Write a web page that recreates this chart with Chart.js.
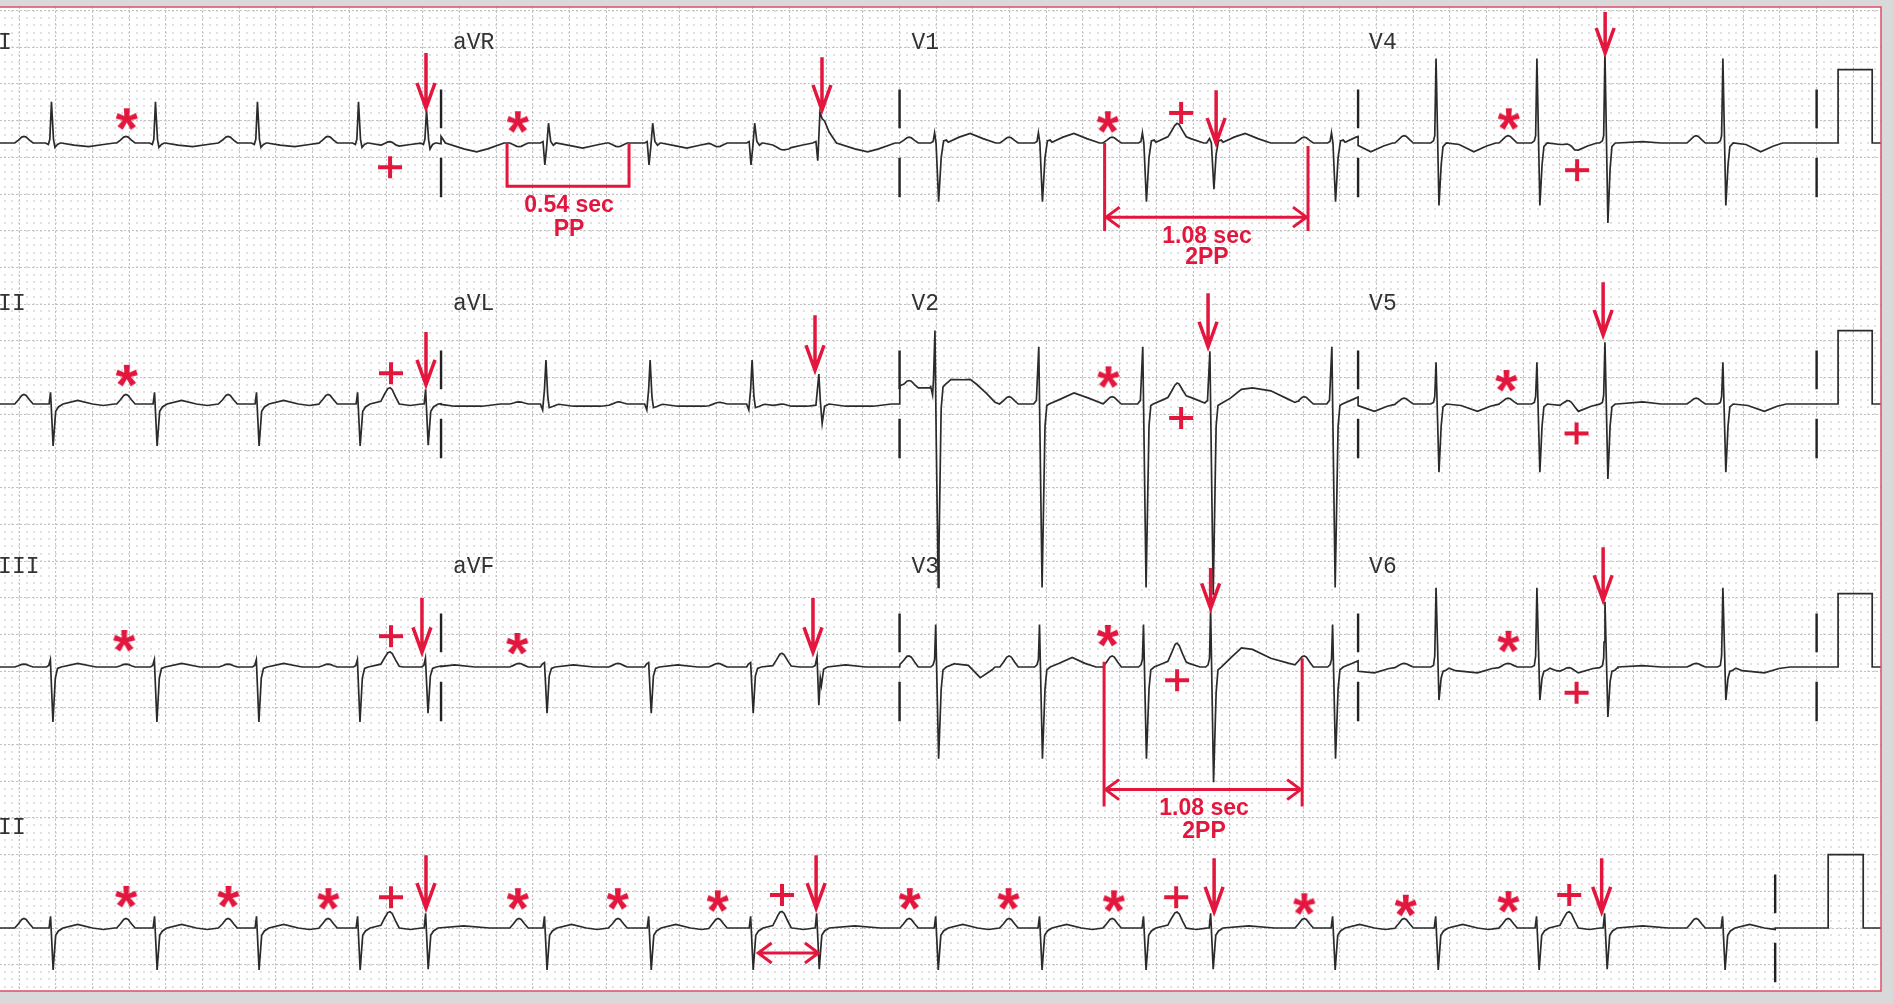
<!DOCTYPE html>
<html>
<head>
<meta charset="utf-8">
<title>ECG</title>
<script src="https://cdn.jsdelivr.net/npm/chart.js@4.4.1/dist/chart.umd.min.js"></script>
<style>
  html, body { margin: 0; padding: 0; background: #d9d9d9; }
  canvas { display: block; }
</style>
</head>
<body>
<canvas id="ecg" width="1893" height="1004"></canvas>
<script>
/* ECG 12 derivaciones + tira de ritmo II */

const qrsTimes = [0.379, 0.946, 1.502, 2.053, 2.424, 3.072, 3.640, 4.196, 4.556,
                  5.205, 5.771, 6.338, 6.704, 7.369, 7.931, 8.481, 8.852, 9.495];
const earlyBeats = [4, 8, 12, 16];      // latidos con flecha
// picos de las ondas P (s)
const pTimes = [0.226, 0.782, 1.339, 1.884, 2.222, 2.925, 3.465, 4.010, 4.359,
                5.052, 5.597, 6.159, 6.513, 7.206, 7.751, 8.318, 8.651, 9.343];
const plusWaves = [4, 8, 12, 16];       // P marcadas con "+"

const rowLeads = [['I', 'aVR', 'V1', 'V4'], ['II', 'aVL', 'V2', 'V5'], ['III', 'aVF', 'V3', 'V6']];
const rhythmLead = 'II';
const rowBase = [10.695, 7.139, 3.556, 0];   // mV, linea de base de cada fila
const leadSpan = 2.5;
const rhythmEnd = 9.774;
const sepTimes = [2.5, 5, 7.5, 10];
const labelTimes = [0.085, 2.565, 5.065, 7.56];
const calStart = [10.117, 10.117, 10.117, 10.063];
const calEnd = [10.303, 10.303, 10.303, 10.254];
const calHeight = 1;

const xRange = [0.0954, 10.335];
const yRange = [-0.858, 12.548];

// plantilla de onda P (normalizada)
const pWave = [[-0.05, 0], [-0.03, 0.45], [-0.012, 0.9], [0, 1], [0.012, 0.9], [0.03, 0.45], [0.05, 0]];
const pAmp = { I: 0.09, aVR: -0.05, V1: 0.08, V4: 0.1, II: 0.13, aVL: 0.03, V2: 0.1, V5: 0.08, III: 0.04, aVF: 0.05, V3: 0.15, V6: 0.05 };
const pPlusAmp = { I: 0.06, aVR: -0.04, V1: 0.14, V4: 0.06, II: 0.19, aVL: 0.03, V2: 0.14, V5: 0.1, III: 0.17, aVF: 0.16, V3: 0.2, V6: 0.06 };

// QRS [dt s, mV]
const qrsNormal = {
  I:   [[-0.035,0],[-0.02,-0.02],[-0.012,0.05],[-0.003,0.56],[0.008,0.05],[0.016,-0.06],[0.03,-0.02],[0.045,0]],
  aVR: [[-0.03,0],[-0.016,0.02],[-0.006,-0.3],[0.004,-0.05],[0.014,0.27],[0.026,0.02],[0.04,-0.03],[0.055,0]],
  V1:  [[-0.035,0],[-0.022,0.02],[-0.014,0.14],[-0.006,0],[0.008,-0.8],[0.022,-0.2],[0.035,0.03],[0.05,0.04],[0.06,0]],
  V4:  [[-0.035,0],[-0.02,0.03],[-0.013,0.1],[-0.006,1.15],[0.01,-0.85],[0.022,-0.3],[0.032,-0.05],[0.05,0]],
  II:  [[-0.03,0],[-0.016,0],[-0.008,0.16],[0.006,-0.57],[0.02,-0.1],[0.035,-0.04],[0.06,0]],
  aVL: [[-0.03,0],[-0.018,-0.08],[-0.008,0.2],[0,0.6],[0.01,0.1],[0.018,-0.05],[0.04,-0.03],[0.07,0]],
  V2:  [[-0.04,0],[-0.025,0.05],[-0.012,0.78],[0.006,-2.5],[0.022,-0.3],[0.032,-0.02],[0.045,0]],
  V5:  [[-0.035,0],[-0.02,0.02],[-0.013,0.1],[-0.006,0.57],[0.01,-0.93],[0.022,-0.3],[0.032,-0.04],[0.05,0]],
  III: [[-0.03,0],[-0.018,0.02],[-0.009,0.1],[0.005,-0.75],[0.018,-0.15],[0.03,-0.02],[0.05,0]],
  aVF: [[-0.03,0],[-0.02,0.04],[-0.008,0.06],[0.006,-0.63],[0.018,-0.12],[0.03,-0.02],[0.05,0]],
  V3:  [[-0.035,0],[-0.022,0.03],[-0.014,0.1],[-0.008,0.58],[0.008,-1.25],[0.022,-0.3],[0.032,-0.04],[0.05,0]],
  V6:  [[-0.035,0],[-0.02,0.02],[-0.013,0.15],[-0.006,1.08],[0.01,-0.45],[0.022,-0.15],[0.032,-0.06],[0.05,-0.04],[0.065,0]]
};
const qrsEarly = {
  I:   [[-0.035,0],[-0.02,-0.02],[-0.012,0.05],[-0.003,0.45],[0.008,0.05],[0.016,-0.08],[0.03,-0.02],[0.045,0]],
  aVR: [[-0.03,0],[-0.012,0.02],[-0.002,-0.24],[0.01,0.42],[0.022,0.33],[0.035,0.3],[0.06,0.15],[0.1,0]],
  V1:  [[-0.03,0],[-0.014,0.06],[-0.004,0],[0.01,-0.63],[0.022,-0.15],[0.035,0.03],[0.05,0.04],[0.06,0]],
  V4:  [[-0.035,0],[-0.02,0.03],[-0.013,0.1],[-0.006,1.23],[0.01,-1.09],[0.022,-0.35],[0.032,-0.05],[0.05,0]],
  II:  [[-0.03,0],[-0.016,0],[-0.008,0.2],[0.006,-0.56],[0.02,-0.1],[0.035,-0.04],[0.06,0]],
  aVL: [[-0.03,0],[-0.012,0],[0.004,0.42],[0.012,0.05],[0.022,-0.26],[0.035,-0.03],[0.06,0]],
  V2:  [[-0.04,0],[-0.025,0.05],[-0.012,0.72],[0.006,-2.6],[0.022,-0.3],[0.032,-0.02],[0.045,0]],
  V5:  [[-0.035,0],[-0.02,0.02],[-0.013,0.12],[-0.006,0.84],[0.01,-1.02],[0.022,-0.3],[0.032,-0.04],[0.05,0]],
  III: [[-0.03,0],[-0.018,0.02],[-0.009,0.12],[0.005,-0.63],[0.018,-0.12],[0.03,-0.02],[0.05,0]],
  aVF: [[-0.03,0],[-0.016,0.02],[-0.006,0.14],[0.004,-0.52],[0.012,-0.15],[0.018,-0.25],[0.03,-0.03],[0.05,0]],
  V3:  [[-0.035,0],[-0.022,0.03],[-0.014,0.12],[-0.008,0.8],[0.008,-1.57],[0.022,-0.35],[0.032,-0.04],[0.05,0]],
  V6:  [[-0.035,0],[-0.02,0.02],[-0.013,0.12],[-0.006,0.89],[0.01,-0.68],[0.022,-0.2],[0.032,-0.06],[0.05,-0.04],[0.065,0]]
};
// ST-T
const tWave = {
  I:   [[0.05,0],[0.12,-0.03],[0.2,-0.05],[0.28,-0.02],[0.34,0]],
  aVR: [[0.06,0],[0.14,-0.04],[0.2,-0.07],[0.27,-0.03],[0.33,0]],
  V1:  [[0.05,0],[0.12,0.08],[0.18,0.13],[0.25,0.06],[0.32,0]],
  V4:  [[0.05,0],[0.12,-0.02],[0.2,-0.12],[0.27,-0.04],[0.32,0]],
  II:  [[0.06,0],[0.14,0.05],[0.22,0],[0.28,-0.02],[0.34,0]],
  aVL: [[0.06,0],[0.15,-0.03],[0.3,-0.03],[0.4,0]],
  V2:  [[0.045,0],[0.1,0.06],[0.18,0.15],[0.26,0.08],[0.34,0]],
  V5:  [[0.05,0],[0.13,-0.02],[0.22,-0.1],[0.29,-0.03],[0.34,0]],
  III: [[0.05,0],[0.14,0.05],[0.24,0]],
  aVF: [[0.05,0],[0.15,0.03],[0.26,0]],
  V3:  [[0.05,0],[0.1,0.05],[0.17,0.13],[0.24,0.05],[0.3,0]],
  V6:  [[0.05,0],[0.1,-0.05],[0.22,-0.08],[0.3,-0.02],[0.36,0]]
};
const tEarly = {
  aVR: [[0.1,0],[0.2,-0.08],[0.27,-0.12],[0.33,-0.08],[0.42,0]],
  V4:  [[0.06,0],[0.2,0.02],[0.3,0]],
  II:  [[0.06,0],[0.2,0.03],[0.34,0]],
  V2:  [[0.045,0],[0.1,0.08],[0.16,0.2],[0.22,0.22],[0.32,0.18],[0.42,0.06],[0.47,0]],
  V5:  [[0.06,0],[0.2,0.03],[0.3,0]],
  V3:  [[0.05,0],[0.1,0.12],[0.16,0.26],[0.22,0.24],[0.32,0.12],[0.42,0.05],[0.5,0]],
  V6:  [[0.06,0],[0.2,0.02],[0.3,0]]
};
// ondas sueltas [t s, mV]
const extraWaves = {
  V2: [[[4.85,0],[4.9,0.22],[5.17,0.22],[5.185,0]],
       [[5.185,0],[5.193,0.22],[5.2,0]],
       [[5.215,0],[5.225,0.24],[5.28,0.3],[5.35,0.22],[5.42,0.15],[5.47,0.08],[5.52,0]]],
  V3: [[[5.3,0],[5.44,-0.2],[5.52,0]]]
};

// marcas rojas [fila, t, mV]
const asteriskMarks = [[0,0.788,0.31],[0,2.920,0.27],[0,6.137,0.27],[0,8.323,0.31],
  [1,0.788,0.37],[1,6.140,0.35],[1,8.310,0.30],
  [2,0.774,0.34],[2,2.917,0.30],[2,6.137,0.41],[2,8.321,0.33],
  [3,0.785,0.41],[3,1.342,0.41],[3,1.887,0.38],[3,2.920,0.38],[3,3.465,0.38],[3,4.010,0.35],
  [3,5.057,0.38],[3,5.595,0.38],[3,6.170,0.35],[3,7.208,0.31],[3,7.761,0.29],[3,8.321,0.34]];
const plusMarks = [[0,2.222,-0.33],[0,6.535,0.41],[0,8.694,-0.37],
  [1,2.227,0.42],[1,6.535,-0.19],[1,8.691,-0.40],
  [2,2.227,0.42],[2,6.513,-0.18],[2,8.691,-0.35],
  [3,2.227,0.42],[3,4.359,0.45],[3,6.508,0.42],[3,8.651,0.45]];
// flechas [fila, t, punta mV, cola mV]
const arrowMarks = [[0,2.418,0.477,1.226],[0,4.577,0.45,1.17],[0,6.726,0.0,0.72],[0,8.847,1.226,1.785],
  [1,2.418,0.26,0.98],[1,4.539,0.46,1.21],[1,6.682,0.78,1.51],[1,8.836,0.94,1.66],
  [2,2.396,0.2,0.94],[2,4.528,0.2,0.94],[2,6.696,0.80,1.35],[2,8.836,0.91,1.63],
  [3,2.418,0.27,0.99],[3,4.545,0.27,0.99],[3,6.715,0.22,0.95],[3,8.828,0.22,0.95]];
// corchete PP [fila, t1, t2, mV arriba, mV abajo]
const ppBrackets = [[0, 2.86, 3.525, 0.0, -0.59]];
// calibres 2PP [fila, t1, t2, arriba izq, arriba der, abajo, flecha]
const twoPPCalipers = [[0, 6.118, 7.227, 0.0, -0.04, -1.2, -1.01], [2, 6.115, 7.195, 0.07, 0.12, -1.9, -1.67]];
const doubleArrows = [[3, 4.221, 4.566, -0.34]];
const intervalTexts = [[0, 3.198, -0.86, '0.54 sec'], [0, 3.198, -1.18, 'PP'],
  [0, 6.676, -1.28, '1.08 sec'], [0, 6.676, -1.56, '2PP'],
  [2, 6.66, -1.93, '1.08 sec'], [2, 6.66, -2.24, '2PP']];

const RED = '#e3173e';
const INK = '#2b2b2b';

function waveAt(shape, t) {
  const n = shape.length;
  if (t <= shape[0][0] || t >= shape[n - 1][0]) return 0;
  for (let i = 1; i < n; i++) {
    if (t <= shape[i][0]) {
      const [t0, v0] = shape[i - 1], [t1, v1] = shape[i];
      return v0 + (v1 - v0) * (t - t0) / (t1 - t0);
    }
  }
  return 0;
}
const place = (shape, t0, k) => shape.map(([dt, v]) => [t0 + dt, v * k]);

function leadComponents(lead) {
  const comps = [];
  pTimes.forEach((t, i) => {
    comps.push(place(pWave, t, plusWaves.includes(i) ? pPlusAmp[lead] : pAmp[lead]));
  });
  qrsTimes.forEach((t, i) => {
    const early = earlyBeats.includes(i);
    comps.push(place(early ? qrsEarly[lead] : qrsNormal[lead], t, 1));
    comps.push(place(early ? (tEarly[lead] || tWave[lead]) : tWave[lead], t, 1));
  });
  (extraWaves[lead] || []).forEach(s => comps.push(s));
  return comps;
}

function leadTrace(lead, a, b, base) {
  const comps = leadComponents(lead);
  const times = new Set([a, b]);
  comps.forEach(c => c.forEach(([t]) => { if (t > a && t < b) times.add(t); }));
  return [...times].sort((p, q) => p - q)
    .map(t => ({ x: t, y: base + comps.reduce((s, c) => s + waveAt(c, t), 0) }));
}

function calPulse(r, from) {
  const b = rowBase[r];
  return [{ x: from, y: b }, { x: calStart[r], y: b }, { x: calStart[r], y: b + calHeight },
          { x: calEnd[r], y: b + calHeight }, { x: calEnd[r], y: b }, { x: xRange[1] + 0.2, y: b }];
}

// filas de trazado
const traceSets = [];
rowLeads.forEach((leads, r) => {
  let pts = [];
  leads.forEach((lead, c) => {
    pts = pts.concat(leadTrace(lead, c * leadSpan, (c + 1) * leadSpan, rowBase[r]));
  });
  pts = pts.concat(calPulse(r, 4 * leadSpan));
  traceSets.push(pts);
});
traceSets.push(leadTrace(rhythmLead, 0, rhythmEnd, rowBase[3]).concat(calPulse(3, rhythmEnd)));

// separadores de derivacion
const sepPts = [];
[0, 1, 2, 3].forEach(r => {
  const ts = r < 3 ? sepTimes : [rhythmEnd];
  ts.forEach(t => {
    const b = rowBase[r];
    sepPts.push({ x: t, y: b + 0.2 }, { x: t, y: b + 0.73 }, { x: t, y: null },
                { x: t, y: b - 0.2 }, { x: t, y: b - 0.74 }, { x: t, y: null });
  });
});

function markImage(kind) {
  const c = document.createElement('canvas');
  c.width = 30; c.height = 30;
  const g = c.getContext('2d');
  g.fillStyle = RED; g.strokeStyle = RED;
  if (kind === '*') {
    g.font = 'bold 60px "Liberation Sans", Arial, sans-serif';
    const m = g.measureText('*');
    const w = m.actualBoundingBoxLeft + m.actualBoundingBoxRight;
    const s = 23 / w;
    g.translate(15, 15);
    g.scale(s, s);
    g.fillText('*', (m.actualBoundingBoxLeft - m.actualBoundingBoxRight) / 2,
                    (m.actualBoundingBoxAscent - m.actualBoundingBoxDescent) / 2);
  } else {
    g.lineWidth = 4;
    g.beginPath();
    g.moveTo(3, 15); g.lineTo(27, 15);
    g.moveTo(15, 4); g.lineTo(15, 26);
    g.stroke();
  }
  return c;
}

const toPts = list => list.map(([r, t, v]) => ({ x: t, y: rowBase[r] + v }));

const ecgMarks = {
  id: 'ecgMarks',
  beforeDraw(chart) {
    const { ctx, chartArea: a } = chart;
    ctx.save();
    ctx.fillStyle = '#d9d9d9';
    ctx.fillRect(0, 0, chart.width, chart.height);
    ctx.fillStyle = '#ffffff';
    ctx.fillRect(a.left, a.top, a.right - a.left, a.bottom - a.top);
    ctx.restore();
  },
  beforeDatasetsDraw(chart) {
    // puntos de la cuadricula menor
    const { ctx, scales: { x, y } } = chart;
    ctx.save();
    ctx.fillStyle = '#c3c3c3';
    const xs = [], ys = [];
    for (let k = Math.ceil(x.min / 0.04); k * 0.04 <= x.max; k++) xs.push(x.getPixelForValue(k * 0.04));
    for (let k = Math.ceil(y.min / 0.1); k * 0.1 <= y.max; k++) ys.push(y.getPixelForValue(k * 0.1));
    xs.forEach(px => ys.forEach(py => ctx.fillRect(Math.round(px) - 0.7, Math.round(py) - 0.7, 1.4, 1.4)));
    ctx.restore();
  },
  afterDatasetsDraw(chart) {
    const { ctx, scales: { x, y } } = chart;
    const X = t => x.getPixelForValue(t);
    const Y = (r, v) => y.getPixelForValue(rowBase[r] + v);
    ctx.save();
    // nombres de derivacion
    ctx.fillStyle = '#333';
    ctx.font = '23px "Liberation Mono", monospace';
    ctx.textBaseline = 'alphabetic';
    rowLeads.forEach((leads, r) => leads.forEach((lead, c) => ctx.fillText(lead, X(labelTimes[c]), Y(r, 1.28))));
    ctx.fillText(rhythmLead, X(labelTimes[0]), Y(3, 1.28));

    ctx.strokeStyle = RED;
    ctx.fillStyle = RED;
    ctx.lineJoin = 'miter';
    // flechas
    ctx.lineWidth = 3.5;
    arrowMarks.forEach(([r, t, tip, top]) => {
      const px = X(t), yt = Y(r, tip), y0 = Y(r, top);
      ctx.beginPath();
      ctx.moveTo(px, y0); ctx.lineTo(px, yt - 3);
      ctx.moveTo(px - 9, yt - 25); ctx.lineTo(px, yt); ctx.lineTo(px + 9, yt - 25);
      ctx.stroke();
    });
    // corchete PP
    ctx.lineWidth = 3;
    ppBrackets.forEach(([r, t1, t2, top, bot]) => {
      ctx.beginPath();
      ctx.moveTo(X(t1), Y(r, top)); ctx.lineTo(X(t1), Y(r, bot));
      ctx.lineTo(X(t2), Y(r, bot)); ctx.lineTo(X(t2), Y(r, top));
      ctx.stroke();
    });
    const dbl = (x1, x2, py) => {
      ctx.beginPath();
      ctx.moveTo(x1 + 2, py); ctx.lineTo(x2 - 2, py);
      ctx.moveTo(x1 + 15, py - 10); ctx.lineTo(x1 + 1.5, py); ctx.lineTo(x1 + 15, py + 10);
      ctx.moveTo(x2 - 15, py - 10); ctx.lineTo(x2 - 1.5, py); ctx.lineTo(x2 - 15, py + 10);
      ctx.stroke();
    };
    twoPPCalipers.forEach(([r, t1, t2, topL, topR, bot, arr]) => {
      ctx.beginPath();
      ctx.moveTo(X(t1), Y(r, topL)); ctx.lineTo(X(t1), Y(r, bot));
      ctx.moveTo(X(t2), Y(r, topR)); ctx.lineTo(X(t2), Y(r, bot));
      ctx.stroke();
      dbl(X(t1), X(t2), Y(r, arr));
    });
    doubleArrows.forEach(([r, t1, t2, v]) => dbl(X(t1), X(t2), Y(r, v)));
    // textos
    ctx.font = 'bold 23px "Liberation Sans", Arial, sans-serif';
    ctx.textAlign = 'center';
    ctx.textBaseline = 'middle';
    intervalTexts.forEach(([r, t, v, s]) => ctx.fillText(s, X(t), Y(r, v)));
    ctx.restore();
  },
  afterDraw(chart) {
    const { ctx, chartArea: a } = chart;
    ctx.save();
    ctx.strokeStyle = '#d9506a';
    ctx.lineWidth = 1.5;
    ctx.beginPath();
    ctx.moveTo(a.left - 2, a.top); ctx.lineTo(a.right, a.top);
    ctx.lineTo(a.right, a.bottom); ctx.lineTo(a.left - 2, a.bottom);
    ctx.stroke();
    ctx.restore();
  }
};

const traceStyle = { borderColor: INK, borderWidth: 1.7, pointRadius: 0, fill: false, tension: 0 };

new Chart(document.getElementById('ecg'), {
  type: 'line',
  data: {
    datasets: [
      ...traceSets.map(d => ({ ...traceStyle, data: d })),
      { data: sepPts, borderColor: '#222', borderWidth: 2.4, pointRadius: 0, spanGaps: false },
      { type: 'scatter', data: toPts(asteriskMarks), pointStyle: markImage('*'), pointRadius: 12, showLine: false },
      { type: 'scatter', data: toPts(plusMarks), pointStyle: markImage('+'), pointRadius: 12, showLine: false }
    ]
  },
  options: {
    responsive: false,
    animation: false,
    events: [],
    devicePixelRatio: 1,
    layout: { autoPadding: false, padding: { left: 0, top: 7, right: 12, bottom: 13 } },
    plugins: { legend: { display: false }, tooltip: { enabled: false } },
    scales: {
      x: {
        type: 'linear', min: xRange[0], max: xRange[1] + 0.016,
        ticks: { display: false, stepSize: 0.2, includeBounds: false },
        grid: { color: '#c2c2c2', lineWidth: 1, drawTicks: false },
        border: { display: false, dash: [2, 2] }
      },
      y: {
        type: 'linear', min: yRange[0], max: yRange[1],
        ticks: { display: false, stepSize: 0.5, includeBounds: false },
        grid: { color: '#c2c2c2', lineWidth: 1, drawTicks: false },
        border: { display: false, dash: [2, 2] }
      }
    }
  },
  plugins: [ecgMarks]
});
</script>
</body>
</html>
